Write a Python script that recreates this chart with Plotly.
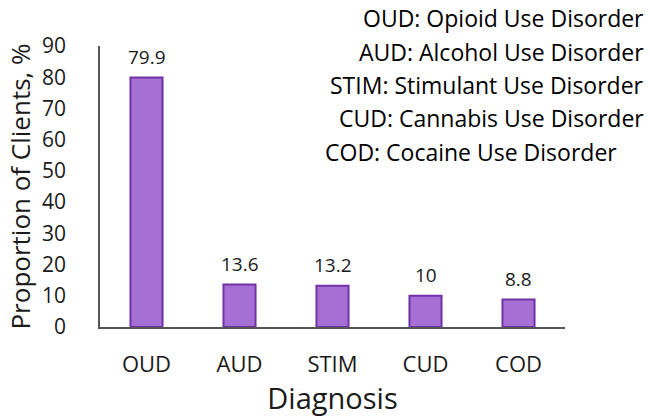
import plotly.graph_objects as go

categories = ["OUD", "AUD", "STIM", "CUD", "COD"]
values = [79.9, 13.6, 13.2, 10, 8.8]
value_labels = ["79.9", "13.6", "13.2", "10", "8.8"]
legend_lines = [
    "OUD: Opioid Use Disorder",
    "AUD: Alcohol Use Disorder",
    "STIM: Stimulant Use Disorder",
    "CUD: Cannabis Use Disorder",
    "COD: Cocaine Use Disorder",
]

FONT = "Open Sans"
W, H = 650, 417
ML, MR, MT, MB = 100, 85, 46, 90
PW, PH = W - ML - MR, H - MT - MB

fig = go.Figure()
fig.add_trace(go.Bar(
    x=categories, y=values, width=0.345,
    marker=dict(color="#a66fd4", line=dict(color="#7232a6", width=2)),
    hoverinfo="skip",
))

annotations = []
for c, v, t in zip(categories, values, value_labels):
    annotations.append(dict(x=c, y=v, text=t, showarrow=False, xref="x", yref="y",
                            yanchor="bottom", yshift=6,
                            font=dict(family=FONT, size=19, color="#1a1a1a")))

# legend-like text block (pixel positions converted to paper coords)
line_y = [18, 52, 85, 118, 152]
for i, (txt, py) in enumerate(zip(legend_lines, line_y)):
    if i < 4:
        px, anchor = 646, "right"
    else:
        px, anchor = 323, "left"
    annotations.append(dict(x=(px - ML) / PW, y=(H - MB - py) / PH, xref="paper", yref="paper",
                            text=txt, showarrow=False, xanchor=anchor, yanchor="middle",
                            font=dict(family=FONT, size=23, color="#000")))

fig.update_layout(
    width=W, height=H,
    margin=dict(l=ML, r=MR, t=MT, b=MB),
    paper_bgcolor="white", plot_bgcolor="white",
    showlegend=False,
    annotations=annotations,
    xaxis=dict(
        range=[-0.5, 4.5], showline=True, linecolor="#555", linewidth=1.5,
        ticks="", showgrid=False, zeroline=False,
        tickfont=dict(family=FONT, size=22, color="#1a1a1a"),
        ticklabelstandoff=17,
        title=dict(text="Diagnosis", font=dict(family=FONT, size=29, color="#1a1a1a"), standoff=4),
    ),
    yaxis=dict(
        range=[0, 90], tickvals=list(range(0, 91, 10)), showline=True, linecolor="#555", linewidth=1.5,
        ticks="", showgrid=False, zeroline=False,
        tickfont=dict(family=FONT, size=21, color="#1a1a1a"),
        ticklabelstandoff=28,
        title=dict(text="Proportion of Clients, %", font=dict(family=FONT, size=26, color="#1a1a1a"), standoff=4),
    ),
)

fig.write_html("out.html", config={"displayModeBar": False},
               post_script="document.body.style.margin='0';")
